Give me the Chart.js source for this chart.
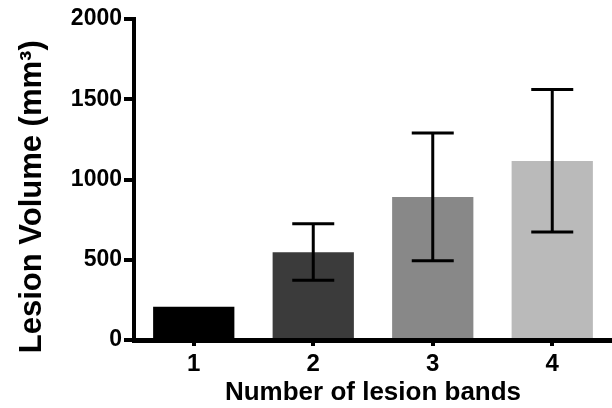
<!DOCTYPE html>
<html>
<head>
<meta charset="utf-8">
<script src="https://cdn.jsdelivr.net/npm/chart.js@4"></script>
<style>
  html, body { margin: 0; padding: 0; background: #fff; }
  #wrap { width: 612px; height: 408px; }
</style>
</head>
<body>
<div id="wrap"><canvas id="c" width="612" height="408"></canvas></div>
<script>
const categories = ['1', '2', '3', '4'];
const meanVolume = [207, 546, 891, 1115];
const errLow = [207, 372, 494, 673];
const errHigh = [207, 725, 1290, 1560];
const barColors = ['#000000', '#3b3b3b', '#888888', '#bababa'];
const yTicks = [0, 500, 1000, 1500, 2000];

const FONT = '"Liberation Sans", Arial, Helvetica, sans-serif';

const errorBars = {
  id: 'errorBars',
  afterDatasetsDraw(chart) {
    const meta = chart.getDatasetMeta(0);
    const y = chart.scales.y;
    const ctx = chart.ctx;
    ctx.save();
    ctx.strokeStyle = '#000';
    ctx.lineWidth = 3;
    ctx.lineCap = 'butt';
    meta.data.forEach((bar, i) => {
      const x = bar.x;
      const yh = y.getPixelForValue(errHigh[i]);
      const yl = y.getPixelForValue(errLow[i]);
      if (Math.abs(yh - yl) < 1) return;
      const half = 21;
      ctx.beginPath();
      ctx.moveTo(x, yh); ctx.lineTo(x, yl);
      ctx.moveTo(x - half, yh); ctx.lineTo(x + half, yh);
      ctx.moveTo(x - half, yl); ctx.lineTo(x + half, yl);
      ctx.stroke();
    });
    ctx.restore();
  }
};

new Chart(document.getElementById('c'), {
  type: 'bar',
  data: {
    labels: categories,
    datasets: [{
      data: meanVolume,
      backgroundColor: barColors,
      borderWidth: 0,
      barPercentage: 0.68,
      categoryPercentage: 1.0
    }]
  },
  plugins: [errorBars],
  options: {
    responsive: false,
    animation: false,
    devicePixelRatio: 1,
    layout: { padding: { top: 19, right: 0, bottom: 0, left: 0 } },
    plugins: { legend: { display: false }, tooltip: { enabled: false } },
    scales: {
      x: {
        grid: { display: true, drawOnChartArea: false, drawTicks: true, tickLength: 6, lineWidth: 4, color: '#000', offset: false },
        border: { display: true, color: '#000', width: 5 },
        ticks: { color: '#000', font: { family: FONT, size: 24, weight: 'bold' }, padding: 4 },
        title: { display: true, text: 'Number of lesion bands', color: '#000', font: { family: FONT, size: 26, weight: 'bold' }, padding: { top: -2, bottom: 0 } },
        afterFit(scale) { scale.height = 68; }
      },
      y: {
        min: 0, max: 2000,
        afterBuildTicks(scale) { scale.ticks = yTicks.map(v => ({ value: v })); },
        grid: { display: true, drawOnChartArea: false, drawTicks: true, tickLength: 10, lineWidth: 4, color: '#000' },
        border: { display: true, color: '#000', width: 4 },
        ticks: { color: '#000', font: { family: FONT, size: 23, weight: 'bold' }, padding: 2, callback: (v) => String(v) },
        title: { display: true, text: 'Lesion Volume (mm³)    ', color: '#000', font: { family: FONT, size: 31, weight: 'bold' }, padding: { top: 14, bottom: 0 } },
        afterFit(scale) { scale.width = 134; }
      }
    }
  }
});
</script>
</body>
</html>
